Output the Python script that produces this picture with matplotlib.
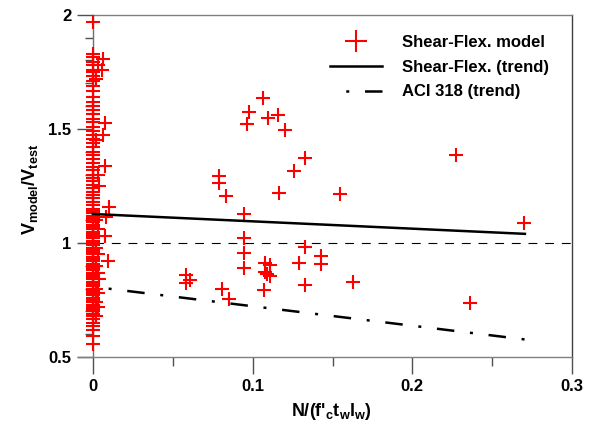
import matplotlib
matplotlib.use("Agg")
import matplotlib.pyplot as plt
from matplotlib.ticker import MultipleLocator, FuncFormatter

plt.rcParams['font.family'] = ['Liberation Sans', 'DejaVu Sans']
plt.rcParams['font.weight'] = 'bold'
plt.rcParams['mathtext.fontset'] = 'custom'
plt.rcParams['mathtext.rm'] = 'Liberation Sans:bold'
plt.rcParams['mathtext.it'] = 'Liberation Sans:bold'
plt.rcParams['mathtext.bf'] = 'Liberation Sans:bold'

# ---- data: points at N/(f'c tw lw) = 0 ----
col_y = [1.97, 1.83, 1.815, 1.795, 1.78, 1.76, 1.75, 1.73, 1.71, 1.69, 1.665, 1.64,
         1.62, 1.60, 1.585, 1.565, 1.545, 1.53, 1.51, 1.49, 1.475, 1.455, 1.44, 1.42,
         1.40, 1.385, 1.37, 1.35, 1.335, 1.32, 1.30, 1.285, 1.27, 1.255, 1.24, 1.225,
         1.21, 1.195, 1.18, 1.165, 1.15, 1.14, 1.13, 1.12, 1.11, 1.10, 1.09, 1.08,
         1.07, 1.06, 1.05, 1.04, 1.03, 1.02, 1.01, 1.00, 0.99, 0.98, 0.97, 0.96,
         0.95, 0.94, 0.93, 0.92, 0.91, 0.90, 0.89, 0.88, 0.87, 0.86, 0.85, 0.84,
         0.83, 0.82, 0.81, 0.80, 0.79, 0.78, 0.77, 0.76, 0.75, 0.74, 0.73, 0.72,
         0.71, 0.70, 0.69, 0.68, 0.665, 0.65, 0.635, 0.62, 0.59, 0.555]

# points slightly off zero
near_x = [0.002, 0.003, 0.002, 0.003, 0.004, 0.002, 0.003, 0.002, 0.003, 0.002,
          0.003, 0.002, 0.004, 0.003, 0.002, 0.003, 0.002,
          0.0065, 0.0054, 0.0075, 0.0065, 0.0075, 0.0102, 0.008, 0.0075, 0.0096]
near_y = [0.98, 0.95, 0.90, 0.87, 0.84, 0.80, 0.78, 0.74, 0.72, 0.68,
          1.06, 1.10, 1.25, 1.30, 1.45, 1.78, 1.72,
          1.806, 1.759, 1.525, 1.474, 1.338, 1.159, 1.115, 1.031, 0.922]

# points under axial load
ax_x = [0.1065, 0.0975, 0.1096, 0.1158, 0.0967, 0.120, 0.1325, 0.1256, 0.0788, 0.0788,
        0.083, 0.1165, 0.1548, 0.0944, 0.0944, 0.0944, 0.0944, 0.133, 0.129, 0.143,
        0.143, 0.133, 0.1075, 0.1106, 0.108, 0.1108, 0.109, 0.107, 0.058, 0.0606,
        0.058, 0.081, 0.085, 0.163, 0.2273, 0.236, 0.270]
ax_y = [1.635, 1.576, 1.547, 1.561, 1.521, 1.496, 1.374, 1.317, 1.294, 1.265,
        1.206, 1.218, 1.215, 1.127, 1.020, 0.955, 0.889, 0.984, 0.914, 0.943,
        0.908, 0.816, 0.911, 0.904, 0.874, 0.855, 0.865, 0.794, 0.860, 0.838,
        0.826, 0.798, 0.754, 0.829, 1.386, 0.735, 1.089]

xs = [0.0] * len(col_y) + near_x + ax_x
ys = col_y + near_y + ax_y

# trend lines (endpoints)
trend_x = [0.0, 0.2705]
sf_trend = [1.127, 1.040]
aci_trend = [0.808, 0.577]

fig = plt.figure(figsize=(5.94, 4.37), dpi=100)
ax = fig.add_axes([0.131, 0.183, 0.832, 0.783])

ax.axhline(1.0, color='black', lw=0.8, ls=(0, (8, 7)), zorder=1)
ax.plot(xs, ys, ls='none', marker='+', color='#ff0000', ms=10, mew=1.5,
        label='Shear-Flex. model', zorder=3)
ax.plot(trend_x, sf_trend, color='black', lw=1.8, label='Shear-Flex. (trend)', zorder=4)
ax.plot(trend_x, aci_trend, color='black', lw=1.8, ls=(7, (7, 6.3, 1.2, 6.3)),
        label='ACI 318 (trend)', zorder=4)

ax.set_xlim(-0.0095, 0.3)
ax.set_ylim(0.5, 2.0)

ax.spines['left'].set_position(('data', 0))
ax.spines['left'].set_color('#707070')
ax.spines['top'].set_color('#808080')
ax.spines['top'].set_bounds(0, 0.3)
ax.spines['bottom'].set_color('#808080')
ax.spines['right'].set_color('#404040')
for s in ax.spines.values():
    s.set_linewidth(1.0)

ax.xaxis.set_major_locator(MultipleLocator(0.1))
ax.xaxis.set_minor_locator(MultipleLocator(0.05))
ax.yaxis.set_major_locator(MultipleLocator(0.5))
ax.yaxis.set_minor_locator(MultipleLocator(0.1))
fmt = FuncFormatter(lambda v, p: ('%g' % round(v, 3)))
ax.xaxis.set_major_formatter(fmt)
ax.yaxis.set_major_formatter(fmt)

ax.tick_params(axis='x', which='major', direction='out', length=12, width=1.0,
               color='#505050', labelsize=12, pad=4)
ax.tick_params(axis='x', which='minor', direction='out', length=6.5, width=1.0,
               color='#505050')
ax.tick_params(axis='y', which='major', direction='out', length=11.5, width=1.0,
               color='#505050', labelsize=12, pad=4)
ax.tick_params(axis='y', which='minor', direction='out', length=6, width=1.0,
               color='#505050')
ax.tick_params(top=False, right=False, which='both')
for lab in ax.get_xticklabels() + ax.get_yticklabels():
    lab.set_fontweight('bold')

ax.set_xlabel("N/(f'$_c$t$_w$l$_w$)", fontsize=13, fontweight='bold')
ax.xaxis.set_label_coords(0.514, -0.129)
ax.set_ylabel("V$_{model}$/V$_{test}$", fontsize=13, fontweight='bold')
ax.yaxis.set_label_coords(-0.077, 0.49)

leg = ax.legend(loc='upper left', bbox_to_anchor=(0.510, 0.941), frameon=False,
                fontsize=12, markerscale=1.6, handlelength=3.1, labelspacing=0.58,
                handletextpad=1.25, borderpad=0, borderaxespad=0)
for t in leg.get_texts():
    t.set_fontweight('bold')

fig.savefig('out.png', dpi=100)
